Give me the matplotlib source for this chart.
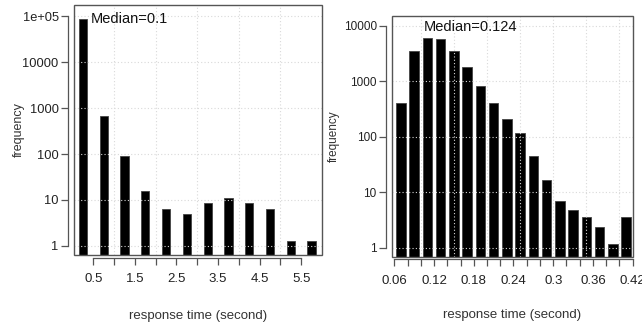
import matplotlib
matplotlib.use("Agg")
import matplotlib.pyplot as plt
from matplotlib.patches import Rectangle
import numpy as np

plt.rcParams['font.family'] = ['Liberation Sans', 'DejaVu Sans']

# ---- data ----
left_centers = [0.25, 0.75, 1.25, 1.75, 2.25, 2.75, 3.25, 3.75, 4.25, 4.75, 5.25, 5.75]
left_counts = [86000, 680, 92, 16, 6.3, 5.0, 8.8, 11.2, 8.8, 6.3, 1.27, 1.27]
left_xticks = [0.5, 1.0, 1.5, 2.0, 2.5, 3.0, 3.5, 4.0, 4.5, 5.0, 5.5]
left_xlabels = ['0.5', '', '1.5', '', '2.5', '', '3.5', '', '4.5', '', '5.5']
left_yticks = [1, 10, 100, 1000, 10000, 100000]
left_ylabels = ['1', '10', '100', '1000', '10000', '1e+05']
left_median = "Median=0.1"

right_centers = [0.07, 0.09, 0.11, 0.13, 0.15, 0.17, 0.19, 0.21, 0.23, 0.25,
                 0.27, 0.29, 0.31, 0.33, 0.35, 0.37, 0.39, 0.41]
right_counts = [405, 3550, 6150, 5750, 3500, 1850, 840, 415, 209, 118,
                45, 16.8, 7.1, 4.8, 3.57, 2.39, 1.2, 3.57]
right_xticks = [0.06, 0.08, 0.10, 0.12, 0.14, 0.16, 0.18, 0.20, 0.22, 0.24,
                0.26, 0.28, 0.30, 0.32, 0.34, 0.36, 0.38, 0.40, 0.42]
right_xlabels = ['0.06', '', '', '0.12', '', '', '0.18', '', '', '0.24',
                 '', '', '0.3', '', '', '0.36', '', '', '0.42']
right_yticks = [1, 10, 100, 1000, 10000]
right_ylabels = ['1', '10', '100', '1000', '10000']
right_median = "Median=0.124"

fig = plt.figure(figsize=(6.42, 3.26), dpi=100)

def panel(rect, centers, counts, width, xlim, ylim, xticks, xlabels, yticks, ylabels,
          xgrid, median, mpos, xbounds, ysize, ylabsize, xlabpad, ylabpad):
    ax = fig.add_axes(rect)
    ax.set_yscale('log')
    ax.set_xlim(*xlim)
    ax.set_ylim(*ylim)
    base = ylim[0]
    ax.bar(centers, np.array(counts) - base, bottom=base, width=width,
           color='black', edgecolor='#444444', linewidth=0.6, zorder=2)
    for g in xgrid:
        ax.axvline(g, color='#d9d9d9', linestyle=(0, (1, 2)), linewidth=0.8, zorder=3)
    for g in yticks:
        ax.axhline(g, color='#d9d9d9', linestyle=(0, (1, 2)), linewidth=0.8, zorder=3)
    ax.set_yticks(yticks, ylabels)
    ax.minorticks_off()
    ax.set_xticks(xticks, xlabels)
    for s in ['top', 'right']:
        ax.spines[s].set_visible(False)
    ax.spines['left'].set_position(('outward', 4))
    ax.spines['left'].set_bounds(yticks[0], yticks[-1])
    ax.spines['bottom'].set_position(('outward', 2))
    ax.spines['bottom'].set_bounds(*xbounds)
    for s in ['left', 'bottom']:
        ax.spines[s].set_color('#555555')
        ax.spines[s].set_linewidth(0.9)
    ax.add_patch(Rectangle((0, 0), 1, 1, transform=ax.transAxes, fill=False,
                           edgecolor='#555555', linewidth=1.0, clip_on=False, zorder=5))
    ax.tick_params(axis='y', direction='out', length=5, width=0.9, color='#555555',
                   labelsize=ysize, pad=2, labelcolor='#222222')
    ax.tick_params(axis='x', direction='out', length=5, width=0.9, color='#555555',
                   labelsize=9.5, pad=6, labelcolor='#222222')
    ax.set_ylabel('frequency', fontsize=ylabsize, color='#333333', labelpad=ylabpad)
    ax.set_xlabel('response time (second)', fontsize=9.5, color='#333333', labelpad=xlabpad)
    ax.text(mpos[0], mpos[1], median, fontsize=10.5, color='#111111',
            ha='left', va='center', zorder=6)
    ax.set_facecolor('white')
    return ax

panel([74/642, 71/326, 248/642, 250/326], left_centers, left_counts, 0.2,
      (0.035, 6.0), (10**-0.196, 10**5.24), left_xticks, left_xlabels,
      left_yticks, left_ylabels, [1, 2, 3, 4, 5], left_median, (0.44, 86000), (0.5, 5.5),
      9.3, 9.0, 18, -2)

panel([392/642, 69.3/326, 241/642, 240.7/326], right_centers, right_counts, 0.0143,
      (0.0565, 0.4205), (10**-0.157, 10**4.18), right_xticks, right_xlabels,
      right_yticks, right_ylabels, [0.10, 0.15, 0.20, 0.25, 0.30, 0.35, 0.40],
      right_median, (0.105, 9400), (0.06, 0.42), 8.5, 8.5, 16, 3)

fig.savefig('out.png', dpi=100)
